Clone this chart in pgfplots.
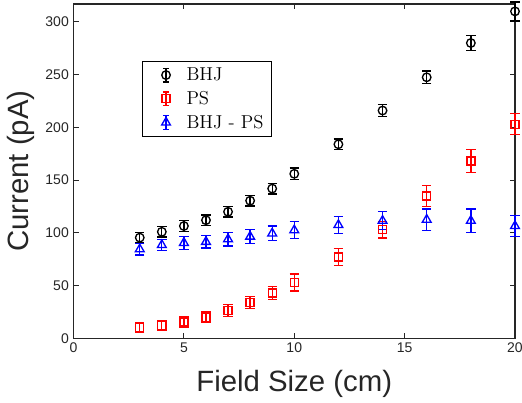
\documentclass[border=0pt]{standalone}
\usepackage{pgfplots}
\pgfplotsset{compat=1.18}
\usepackage{fontspec}
\newfontfamily\arial{Liberation Sans}
\definecolor{axgray}{rgb}{0.15,0.15,0.15}

\pgfplotstableread{
x   bhj  ebhj  ps   eps   d    ed
3   95.5 5     10.5 4.5   84.5 5.5
4   101  5     12.3 4.5   88.5 5.5
5   106.5 5    15.5 5     90.5 6
6   112  5     20   5     91.5 6
7   120  5     26.5 5.5   94   6.5
8   130.5 5    34   5.5   96.5 6.5
9   142  5     43   6     99.5 7
10  156  5.5   53   8     102.5 8
12  184  5     77   8     107.5 8
14  216  5.5   103  8     111.5 8.5
16  247.5 6    135  10    112.5 10
18  280  7     168  11    111.5 11
20  310  9     203  10    106.5 10
}\datatable

\begin{document}
\begin{tikzpicture}
\begin{axis}[
  scale only axis, width=330.75pt, height=250.5pt,
  xmin=0, xmax=20, ymin=0, ymax=317,
  xtick={0,5,10,15,20}, ytick={0,50,100,150,200,250,300},
  tick align=inside, major tick length=3.75pt, tick pos=both,
  axis line style={line width=0.8pt, axgray},
  tick style={line width=0.8pt, axgray},
  ticklabel style={font=\arial\fontsize{10.5}{12}\selectfont, text=axgray},
  /pgf/number format/assume math mode=true,
  xlabel={Field Size (cm)}, ylabel={Current (pA)},
  label style={font=\arial\fontsize{22}{26}\selectfont, text=axgray},
  xlabel style={at={(axis description cs:0.5,0)}, anchor=base, yshift=-39.75pt},
  ylabel style={at={(axis description cs:-0.119,0.5)}, anchor=center},
  clip=false,
  legend style={at={(axis description cs:0.155,0.829)}, anchor=north west,
    font=\fontsize{14}{17}\selectfont, draw=black, line width=0.75pt,
    inner xsep=4pt, inner ysep=2.5pt, row sep=2.5pt},
  legend cell align=left,
  legend image code/.code={
    \path[draw=none,fill=none] (0cm,-0.1cm) rectangle (0.95cm,0.1cm);
    \draw[#1,mark=none,solid] (0.48cm,-0.18cm) -- (0.48cm,0.18cm);
    \draw[#1,mark=none,solid] (0.40cm,0.18cm) -- (0.56cm,0.18cm);
    \draw[#1,mark=none,solid] (0.40cm,-0.18cm) -- (0.56cm,-0.18cm);
    \draw[#1,only marks] plot coordinates {(0.48cm,0cm)};
  },
]
\addplot[black, only marks, mark=o, mark size=3.2pt, line width=1pt,
  error bars/.cd, y dir=both, y explicit,
  error bar style={line width=1pt},
  error mark options={rotate=90, mark size=3.5pt, line width=1pt}]
  table[x=x, y=bhj, y error=ebhj] {\datatable};
\addlegendentry{BHJ}
\addplot[red, only marks, mark=square, mark size=3pt, line width=1pt,
  error bars/.cd, y dir=both, y explicit,
  error bar style={line width=1pt},
  error mark options={rotate=90, mark size=3.5pt, line width=1pt}]
  table[x=x, y=ps, y error=eps] {\datatable};
\addlegendentry{PS}
\addplot[blue, only marks, mark=triangle, mark size=3.8pt, line width=1pt,
  error bars/.cd, y dir=both, y explicit,
  error bar style={line width=1pt},
  error mark options={rotate=90, mark size=3.5pt, line width=1pt}]
  table[x=x, y=d, y error=ed] {\datatable};
\addlegendentry{BHJ - PS}
\end{axis}
\pgfresetboundingbox
\path[use as bounding box] ([xshift=-55.1pt,yshift=-48pt]current axis.south west) rectangle ([xshift=5.25pt,yshift=3pt]current axis.north east);
\end{tikzpicture}
\end{document}
